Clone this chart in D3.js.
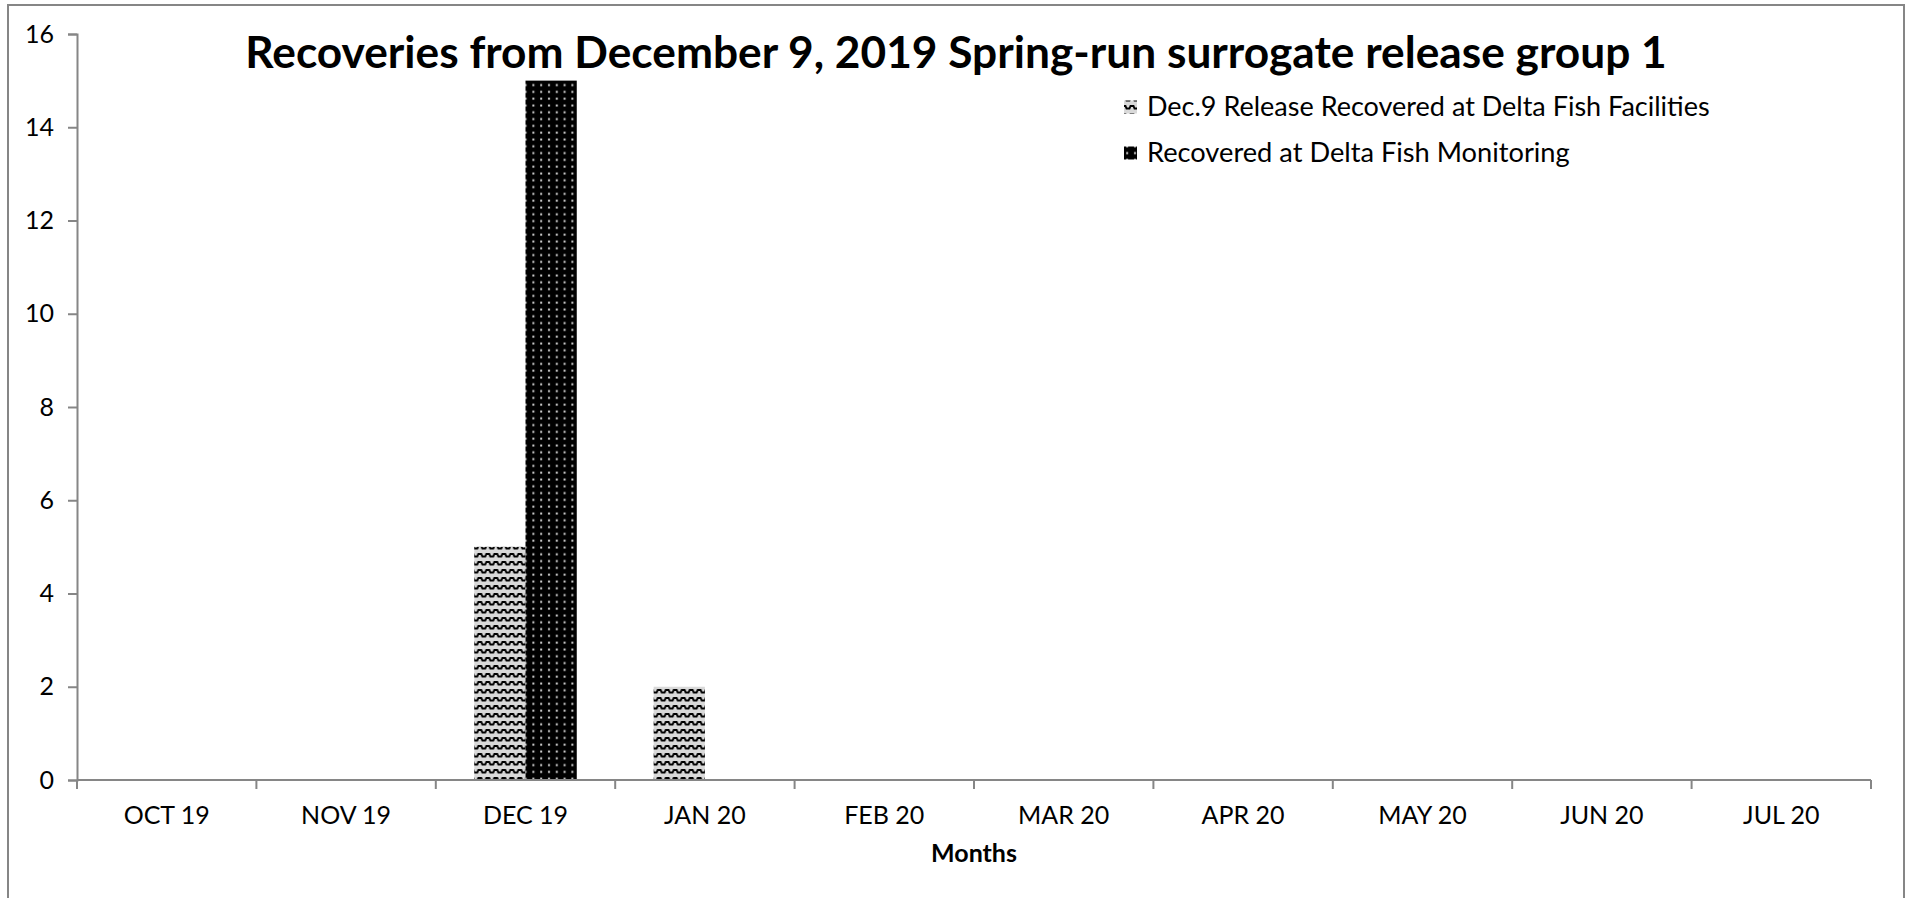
<!DOCTYPE html>
<html>
<head>
<meta charset="utf-8">
<script src="https://cdn.jsdelivr.net/npm/d3@7"></script>
<style>
  html, body { margin: 0; padding: 0; background: #fff; }
  svg { display: block; }
  text { font-family: Lato, "Open Sans", sans-serif; fill: #000; }
</style>
</head>
<body>
<svg id="chart" width="1908" height="898"></svg>
<script>
// Monthly recoveries, Dec. 9 2019 spring-run surrogate release group 1
const months = ["OCT 19", "NOV 19", "DEC 19", "JAN 20", "FEB 20", "MAR 20",
                "APR 20", "MAY 20", "JUN 20", "JUL 20"];
const facilities = [0, 0, 5, 2, 0, 0, 0, 0, 0, 0];   // Dec.9 Release Recovered at Delta Fish Facilities
const monitoring = [0, 0, 15, 0, 0, 0, 0, 0, 0, 0];  // Recovered at Delta Fish Monitoring
const yTicks = [0, 2, 4, 6, 8, 10, 12, 14, 16];
const seriesNames = ["Dec.9 Release Recovered at Delta Fish Facilities",
                     "Recovered at Delta Fish Monitoring"];
const titleText = "Recoveries from December 9, 2019 Spring-run surrogate release group 1";

const svg = d3.select("#chart");
const plot = { left: 77, right: 1871, top: 34, bottom: 780 };
const axisColor = "#868686";

// patterns for the two series
const defs = svg.append("defs");
const wave = defs.append("pattern")
  .attr("id", "wave").attr("patternUnits", "userSpaceOnUse")
  .attr("width", 8).attr("height", 8);
wave.append("rect").attr("width", 8).attr("height", 8).attr("fill", "#d9d9d9");
wave.append("path")
  .attr("d", "M-1,4.5 L1.5,4.5 L2.5,2 L5.5,2 L6.5,4.5 L9,4.5")
  .attr("fill", "none").attr("stroke", "#000").attr("stroke-width", 1.9);

const dots = defs.append("pattern")
  .attr("id", "dots").attr("patternUnits", "userSpaceOnUse")
  .attr("width", 7.8).attr("height", 6.8);
dots.append("rect").attr("width", 7.8).attr("height", 6.8).attr("fill", "#000");
dots.append("rect").attr("x", 3).attr("y", 2.5).attr("width", 2).attr("height", 2).attr("fill", "#d4d4d4");

const fills = ["url(#wave)", "url(#dots)"];

// chart area border
svg.append("rect")
  .attr("x", 8).attr("y", 5).attr("width", 1896).attr("height", 900)
  .attr("fill", "none").attr("stroke", axisColor).attr("stroke-width", 2);

// scales
const x = d3.scaleBand().domain(months).range([plot.left, plot.right]).paddingInner(0).paddingOuter(0);
const y = d3.scaleLinear().domain([0, 16]).range([plot.bottom, plot.top]);
// two bars per month, gap width 150%
const barW = x.bandwidth() / 3.5;
const xs = d3.scaleBand().domain([0, 1])
  .range([x.bandwidth() / 2 - barW, x.bandwidth() / 2 + barW]).padding(0);

const fitFont = (sel, targetW, size) => {
  sel.style("font-size", size + "px");
  const w = sel.node().getComputedTextLength();
  sel.style("font-size", (size * targetW / w) + "px");
};

// bars
const data = months.map((m, i) => ({ m, vals: [facilities[i], monitoring[i]] }));
const groups = svg.append("g").selectAll("g").data(data).join("g")
  .attr("transform", d => `translate(${x(d.m)},0)`);
groups.selectAll("rect")
  .data(d => d.vals.map((v, k) => ({ v, k })).filter(e => e.v > 0))
  .join("rect")
  .attr("x", e => xs(e.k))
  .attr("width", xs.bandwidth())
  .attr("y", e => y(e.v))
  .attr("height", e => y(0) - y(e.v))
  .attr("fill", e => fills[e.k]);

// y axis
const yAxis = svg.append("g")
  .attr("transform", `translate(${plot.left},0)`)
  .call(d3.axisLeft(y).tickValues(yTicks).tickSize(9).tickSizeOuter(9).tickPadding(14));
yAxis.select(".domain").attr("stroke", axisColor).attr("stroke-width", 2);
yAxis.selectAll(".tick line").attr("stroke", axisColor).attr("stroke-width", 2);
yAxis.selectAll(".tick text").style("font-size", "25px").style("font-family", "Lato, sans-serif").attr("fill", "#000");

// x axis: ticks between the categories
const xAxis = svg.append("g").attr("transform", `translate(0,${plot.bottom})`);
xAxis.append("line")
  .attr("x1", plot.left).attr("x2", plot.right)
  .attr("stroke", axisColor).attr("stroke-width", 2);
const boundaries = months.map(m => x(m)).concat([plot.right]);
xAxis.selectAll("line.tk").data(boundaries).join("line")
  .attr("class", "tk")
  .attr("x1", d => d).attr("x2", d => d)
  .attr("y1", 0).attr("y2", 9)
  .attr("stroke", axisColor).attr("stroke-width", 2);
xAxis.selectAll("text").data(months).join("text")
  .attr("x", d => x(d) + x.bandwidth() / 2)
  .attr("y", 44)
  .attr("text-anchor", "middle")
  .style("font-size", "25px")
  .text(d => d);

// axis title
svg.append("text")
  .attr("x", (plot.left + plot.right) / 2).attr("y", 862)
  .attr("text-anchor", "middle")
  .style("font-weight", "bold").style("font-size", "25px")
  .text("Months");

// chart title
const title = svg.append("text")
  .attr("x", 956).attr("y", 68)
  .attr("text-anchor", "middle")
  .style("font-weight", "bold")
  .text(titleText);
fitFont(title, 1422, 37);

// legend
const legend = svg.append("g");
const legendRows = [{ y: 107, w: 563 }, { y: 153, w: 423 }];
seriesNames.forEach((name, k) => {
  const r = legendRows[k];
  legend.append("rect")
    .attr("x", 1124).attr("y", r.y - 6.5).attr("width", 13).attr("height", 13)
    .attr("fill", fills[k]);
  const t = legend.append("text")
    .attr("x", 1147).attr("y", r.y + 9)
    .text(name);
  fitFont(t, r.w, 24);
});
</script>
</body>
</html>
